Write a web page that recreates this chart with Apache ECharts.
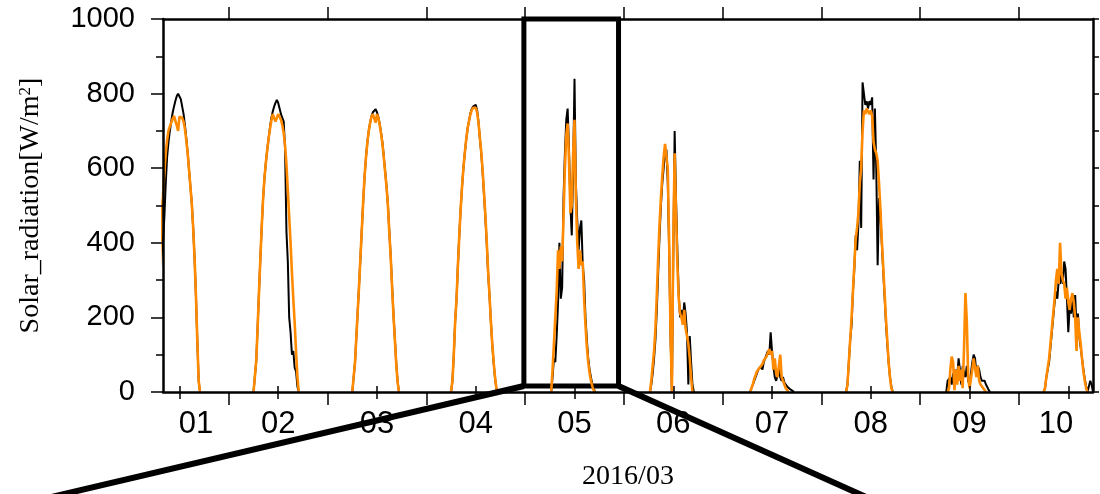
<!DOCTYPE html>
<html>
<head>
<meta charset="utf-8">
<script src="https://cdn.jsdelivr.net/npm/echarts@6/dist/echarts.min.js"></script>
<style>
html, body { margin: 0; padding: 0; background: #fff; }
#chart { width: 1100px; height: 494px; }
</style>
</head>
<body>
<div id="chart"></div>
<script>
// samples every 20 min from 06:00 to 18:00 (37 per day), x axis in hours from 2016-03-01 00:00
const firstSample = 6;
const sampleStep = 20;

const black01 = [0, 20, 120, 210, 290, 370, 400, 470, 560, 630, 670, 700, 725, 748, 765, 780, 793, 800, 797, 785, 765, 745, 715, 680, 640, 595, 550, 505, 440, 360, 260, 140, 30, 0, 0, 0, 0];
const black02 = [0, 5, 85, 175, 270, 360, 445, 520, 575, 615, 650, 680, 710, 735, 752, 765, 775, 783, 775, 760, 745, 735, 725, 650, 430, 350, 200, 160, 100, 110, 65, 55, 15, 0, 0, 0, 0];
const black03 = [0, 5, 80, 150, 220, 290, 365, 440, 515, 580, 630, 670, 700, 722, 740, 750, 755, 758, 750, 738, 718, 695, 668, 630, 590, 550, 500, 430, 365, 285, 210, 145, 80, 30, 0, 0, 0];
const black04 = [0, 30, 100, 190, 250, 340, 420, 490, 550, 600, 640, 675, 705, 725, 745, 758, 765, 770, 770, 755, 725, 680, 640, 590, 530, 470, 400, 320, 260, 190, 130, 80, 40, 10, 0, 0, 0];
const black05 = [0, 0, 40, 90, 80, 150, 240, 400, 250, 280, 520, 640, 730, 760, 650, 500, 420, 600, 840, 560, 460, 380, 440, 460, 340, 300, 200, 140, 90, 60, 40, 20, 10, 0, 0, 0, 0];
const black06 = [0, 0, 20, 50, 90, 140, 220, 320, 420, 500, 560, 600, 640, 650, 560, 380, 150, 0, 360, 700, 520, 380, 260, 200, 220, 190, 240, 210, 160, 20, 150, 80, 20, 0, 0, 0, 0];
const black07 = [0, 0, 0, 10, 20, 30, 40, 50, 60, 55, 70, 60, 80, 90, 85, 110, 100, 160, 110, 70, 40, 30, 25, 60, 40, 30, 40, 25, 20, 15, 10, 8, 5, 3, 0, 0, 0];
const black08 = [0, 20, 80, 140, 180, 270, 330, 420, 380, 450, 620, 440, 830, 800, 770, 780, 760, 780, 770, 790, 570, 760, 600, 340, 520, 480, 400, 330, 260, 190, 130, 80, 40, 15, 0, 0, 0];
const black09 = [0, 0, 30, 25, 40, 20, 50, 30, 60, 40, 90, 60, 20, 70, 50, 40, 70, 30, 20, 50, 80, 100, 90, 50, 70, 60, 40, 30, 35, 30, 20, 15, 5, 0, 0, 0, 0];
const black10 = [0, 10, 40, 60, 80, 120, 160, 200, 240, 270, 250, 300, 290, 320, 290, 350, 330, 250, 160, 230, 210, 250, 200, 260, 170, 210, 150, 120, 90, 60, 35, 15, 0, 5, 30, 20, 0];

const orange01 = [0, 30, 150, 260, 380, 480, 525, 590, 640, 675, 700, 712, 722, 732, 740, 742, 715, 700, 738, 742, 735, 725, 705, 675, 640, 595, 550, 505, 440, 360, 260, 140, 30, 0, 0, 0, 0];
const orange02 = [0, 5, 85, 175, 270, 360, 445, 520, 575, 615, 650, 680, 705, 728, 745, 740, 725, 735, 745, 740, 730, 715, 695, 660, 610, 540, 470, 400, 320, 250, 185, 110, 40, 0, 0, 0, 0];
const orange03 = [0, 5, 80, 150, 220, 290, 365, 440, 515, 580, 630, 670, 700, 722, 738, 745, 748, 722, 745, 735, 715, 692, 665, 628, 588, 548, 498, 428, 362, 282, 208, 142, 78, 28, 0, 0, 0];
const orange04 = [0, 30, 100, 190, 250, 340, 420, 490, 550, 600, 640, 675, 705, 725, 742, 755, 762, 765, 762, 750, 722, 682, 645, 595, 535, 475, 405, 325, 262, 192, 132, 82, 42, 12, 0, 0, 0];
const orange05 = [0, 0, 60, 130, 200, 270, 380, 330, 390, 350, 470, 600, 690, 720, 620, 480, 500, 640, 730, 520, 400, 330, 380, 340, 350, 250, 180, 120, 80, 50, 30, 15, 5, 0, 0, 0, 0];
const orange06 = [0, 0, 30, 70, 110, 170, 260, 360, 450, 520, 580, 630, 665, 670, 600, 400, 160, 0, 400, 640, 480, 340, 250, 210, 200, 180, 220, 170, 150, 130, 90, 40, 0, 0, 0, 0, 0];
const orange07 = [0, 0, 0, 10, 20, 35, 45, 55, 50, 65, 60, 75, 85, 80, 95, 105, 115, 100, 110, 60, 90, 50, 40, 70, 100, 40, 30, 20, 10, 5, 0, 0, 0, 0, 0, 0, 0];
const orange08 = [0, 20, 80, 140, 200, 270, 340, 410, 440, 480, 560, 600, 700, 755, 745, 760, 755, 745, 755, 740, 670, 650, 640, 620, 560, 490, 410, 340, 270, 200, 140, 80, 40, 10, 0, 0, 0];
const orange09 = [0, 0, 0, 10, 60, 95, 80, 5, 60, 20, 70, 30, 60, 10, 120, 265, 190, 40, 10, 5, 60, 90, 95, 40, 70, 30, 20, 15, 10, 5, 0, 0, 0, 0, 0, 0, 0];
const orange10 = [0, 10, 40, 65, 90, 130, 170, 210, 250, 300, 330, 290, 400, 320, 300, 290, 250, 280, 240, 220, 250, 265, 240, 200, 110, 200, 160, 130, 90, 55, 30, 10, 0, 0, 0, 0, 0];

const blackDays = [black01, black02, black03, black04, black05, black06, black07, black08, black09, black10];
const orangeDays = [orange01, orange02, orange03, orange04, orange05, orange06, orange07, orange08, orange09, orange10];

const dayTicks = [24, 48, 72, 96, 120, 144, 168, 192, 216];
const noonTicks = [12, 36, 60, 84, 108, 132, 156, 180, 204, 228];
const labelHours = [16, 36, 60, 84, 108, 132, 156, 180, 204, 225];
const dayLabels = ['01', '02', '03', '04', '05', '06', '07', '08', '09', '10'];

// zoom box: [x from, x to, y from, y to]
const zoomBox = [95.7, 118.7, 16, 1000];

// night-time zeros would sit on top of the axis line, so each day is cut
// to its sunlit part and the nights are left as gaps
function toPoints(days) {
    var pts = [];
    days.forEach(function (vals, d) {
        var first = 0, last = vals.length - 1;
        while (first < last && vals[first + 1] === 0) first++;
        while (last > first && vals[last - 1] === 0) last--;
        for (var i = first; i <= last; i++) {
            pts.push([d * 24 + firstSample + i * sampleStep / 60, vals[i]]);
        }
        pts.push([d * 24 + 21, null]);
    });
    return pts;
}

var sans = "'Liberation Sans', Arial, sans-serif";
var serif = "'Liberation Serif', 'Times New Roman', serif";

function xAxisOf(pos, ticks, len, opts) {
    return Object.assign({
        type: 'value',
        position: pos,
        min: 8,
        max: 234,
        z: 5,
        axisLine: { show: true, onZero: false, lineStyle: { color: '#000', width: 2.5 } },
        axisTick: { show: true, customValues: ticks, length: len, lineStyle: { color: '#000', width: 1.5 } },
        axisLabel: { show: false },
        splitLine: { show: false }
    }, opts || {});
}

var chart = echarts.init(document.getElementById('chart'));
chart.setOption({
    animation: false,
    backgroundColor: '#fff',
    grid: { left: 163, right: 7, top: 19, bottom: 102, containLabel: false, outerBoundsMode: 'none' },
    xAxis: [
        xAxisOf('bottom', dayTicks, 13, {
            axisLabel: {
                show: true,
                customValues: labelHours,
                formatter: function (v) { return dayLabels[labelHours.indexOf(v)]; },
                color: '#000',
                fontFamily: sans,
                fontSize: 31,
                margin: 17
            },
            name: '2016/03',
            nameLocation: 'middle',
            nameGap: 71,
            nameTextStyle: { color: '#000', fontFamily: serif, fontSize: 28 }
        }),
        xAxisOf('bottom', noonTicks, 7, { axisLine: { show: false } }),
        xAxisOf('top', dayTicks, 12),
        xAxisOf('top', noonTicks, 6, { axisLine: { show: false } })
    ],
    yAxis: [
        {
            type: 'value',
            position: 'left',
            min: 0,
            max: 1000,
            interval: 200,
            z: 5,
            axisLine: { show: true, lineStyle: { color: '#000', width: 2.5 } },
            axisTick: { show: true, length: 12, lineStyle: { color: '#000', width: 1.5 } },
            minorTick: { show: true, splitNumber: 2, length: 7, lineStyle: { color: '#000', width: 1.5 } },
            axisLabel: {
                color: '#000', fontFamily: sans, fontSize: 29, margin: 28,
                formatter: function (v) { return String(v); }
            },
            splitLine: { show: false },
            name: '{a|Solar_radiation[W/m}{b|2}{a|]}',
            nameLocation: 'middle',
            nameGap: 118,
            nameTextStyle: {
                rich: {
                    a: { color: '#000', fontFamily: serif, fontSize: 28 },
                    b: { color: '#000', fontFamily: serif, fontSize: 17, verticalAlign: 'top' }
                }
            }
        },
        {
            type: 'value',
            position: 'right',
            min: 0,
            max: 1000,
            interval: 100,
            z: 5,
            axisLine: { show: true, lineStyle: { color: '#000', width: 2.5 } },
            axisTick: { show: true, length: 6, lineStyle: { color: '#000', width: 1.5 } },
            axisLabel: { show: false },
            splitLine: { show: false }
        }
    ],
    series: [
        {
            type: 'line',
            data: toPoints(blackDays),
            showSymbol: false,
            connectNulls: false,
            lineStyle: { color: '#000', width: 2 },
            markArea: {
                silent: true,
                itemStyle: { color: 'rgba(0,0,0,0)', borderColor: '#000', borderWidth: 5 },
                data: [[{ xAxis: zoomBox[0], yAxis: zoomBox[2] }, { xAxis: zoomBox[1], yAxis: zoomBox[3] }]]
            }
        },
        {
            type: 'line',
            data: toPoints(orangeDays),
            showSymbol: false,
            connectNulls: false,
            lineStyle: { color: '#ff8a00', width: 2.6 }
        }
    ]
});

// lines from the zoom box down to the (cut off) detail panel below
var bl = chart.convertToPixel({ gridIndex: 0 }, [zoomBox[0], zoomBox[2]]);
var br = chart.convertToPixel({ gridIndex: 0 }, [zoomBox[1], zoomBox[2]]);
chart.setOption({
    graphic: [
        { type: 'line', z: 100, shape: { x1: bl[0], y1: bl[1], x2: -21, y2: 514 }, style: { stroke: '#000', lineWidth: 6 } },
        { type: 'line', z: 100, shape: { x1: br[0], y1: br[1], x2: 904, y2: 514 }, style: { stroke: '#000', lineWidth: 6 } }
    ]
});
</script>
</body>
</html>
